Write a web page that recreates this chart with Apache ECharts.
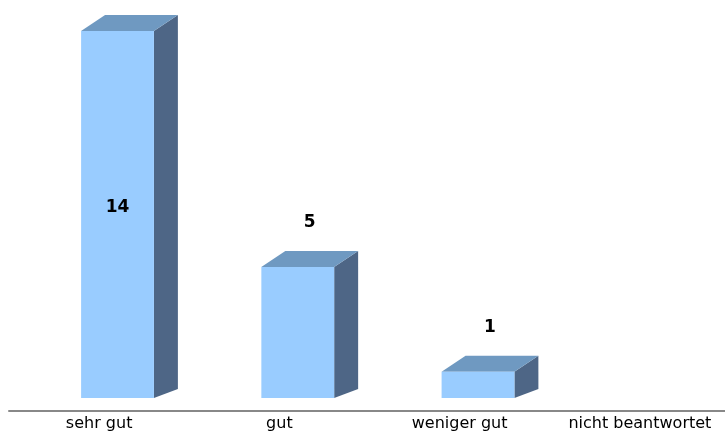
<!DOCTYPE html>
<html>
<head>
<meta charset="utf-8">
<script src="https://cdn.jsdelivr.net/npm/echarts@6/dist/echarts.min.js"></script>
<style>
html,body{margin:0;padding:0;background:#fff;}
#main{width:725px;height:433px;}
</style>
</head>
<body>
<div id="main"></div>
<script>
var categories = ['sehr gut', 'gut', 'weniger gut', 'nicht beantwortet'];
var values = [14, 5, 1, null];

var chart = echarts.init(document.getElementById('main'));

function renderBar(params, api) {
  var v = api.value(1);
  if (v == null || isNaN(v)) return null;
  var base = api.coord([api.value(0), 0]);
  var topP = api.coord([api.value(0), v]);
  var band = api.size([1, 0])[0];
  var cx = base[0];
  var L = cx - band * 0.1;
  var W = band * 0.404;
  var R = L + W;
  var dx = band * 0.133;
  var dy = 16;
  var dyb = 9;
  var top = topP[1];
  var bot = base[1];
  var h = bot - top;
  var children = [
    {type: 'polygon', shape: {points: [[R, top], [R + dx, top - dy], [R + dx, bot - dyb], [R, bot]]},
      style: {fill: '#4e6686', stroke: null}},
    {type: 'polygon', shape: {points: [[L, top], [L + dx, top - dy], [R + dx, top - dy], [R, top]]},
      style: {fill: '#6f99c1', stroke: null}},
    {type: 'rect', shape: {x: L, y: top, width: W, height: h},
      style: {fill: '#99ccff', stroke: null}}
  ];
  var lx, ly;
  if (h > 200) {
    lx = L + W / 2;
    ly = top + h / 2 - 7;
  } else {
    lx = L + (W + dx) / 2;
    ly = top - 44;
  }
  children.push({type: 'text', style: {text: String(v), x: lx, y: ly, textAlign: 'center', textVerticalAlign: 'middle',
    fill: '#000', font: 'bold 17px "DejaVu Sans", sans-serif'}});
  return {type: 'group', children: children};
}

chart.setOption({
  animation: false,
  backgroundColor: '#ffffff',
  grid: {left: 9, width: 721, top: 31, bottom: 35, containLabel: false, outerBoundsMode: 'none'},
  xAxis: {
    type: 'category',
    data: categories,
    offset: 13,
    axisLine: {show: true, onZero: false, lineStyle: {color: '#888888', width: 2}},
    axisTick: {show: false},
    axisLabel: {color: '#000', fontFamily: 'DejaVu Sans', fontSize: 16, margin: 5, interval: 0}
  },
  yAxis: {
    type: 'value', min: 0, max: 14, show: false,
    splitLine: {show: false}
  },
  series: [{
    type: 'custom',
    renderItem: renderBar,
    data: categories.map(function (c, i) { return [i, values[i]]; }),
    encode: {x: 0, y: 1},
    clip: false
  }]
});
</script>
</body>
</html>
